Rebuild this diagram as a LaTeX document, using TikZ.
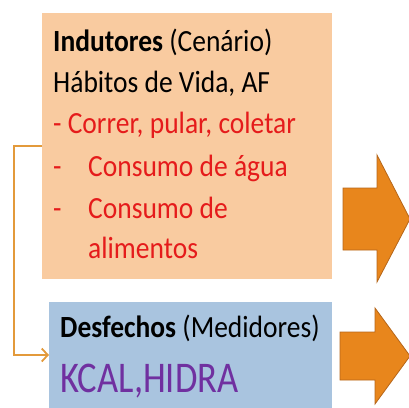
\documentclass[tikz,border=0pt]{standalone}
\usepackage{fontspec}
\setmainfont{Carlito}
\usetikzlibrary{arrows.meta}
\definecolor{boxorange}{HTML}{F9CBA0}
\definecolor{boxblue}{HTML}{A9C4DF}
\definecolor{linkorange}{HTML}{E39A3B}
\definecolor{arrowfill}{HTML}{E8861C}
\definecolor{arrowdraw}{HTML}{B5661A}
\definecolor{txtred}{HTML}{E51B1B}
\definecolor{txtpurple}{HTML}{7030A0}
\newcommand{\tall}[1]{\scalebox{1}[1.12]{#1}}
\newcommand{\taller}[1]{\scalebox{1}[1.2]{#1}}
\tikzset{
  panel/.style={draw=none, inner sep=0, outer sep=0, anchor=north west},
  txt/.style={anchor=base west, inner sep=0, font=\fontsize{27.5}{32}\selectfont},
  bigtxt/.style={anchor=base west, inner sep=0, font=\fontsize{36.5}{44}\selectfont, text=txtpurple},
  link/.style={draw=linkorange, line width=1.8pt, -{Straight Barb[length=6pt,width=13pt,line width=1.8pt]}},
  blockarrow/.style={fill=arrowfill, draw=arrowdraw, line width=0.8pt, line join=miter}
}
\begin{document}
\begin{tikzpicture}[x=1pt,y=-1pt]
\useasboundingbox (0,0) rectangle (409,407);
\node[panel, fill=boxorange, minimum width=290pt, minimum height=266pt] (ind) at (42,13) {};
\node[panel, fill=boxblue, minimum width=283pt, minimum height=106pt] (des) at (49,302) {};
% text
\node[txt] (t1) at (53,51) {\tall{\textbf{Indutores} (Cenário)}};
\node[txt] (t2) at (53,92) {\tall{Hábitos de Vida, AF}};
\node[txt, text=txtred] (t3) at (53,133) {\tall{- Correr, pular, coletar}};
\node[txt, text=txtred] (t4a) at (53,176) {\tall{-}};
\node[txt, text=txtred] (t4) at (88,176) {\tall{Consumo de água}};
\node[txt, text=txtred] (t5a) at (53,218) {\tall{-}};
\node[txt, text=txtred] (t5) at (88,218) {\tall{Consumo de}};
\node[txt, text=txtred] (t6) at (88,258) {\tall{alimentos}};
\node[txt] (d1) at (60,337) {\tall{\textbf{Desfechos} (Medidores)}};
\node[bigtxt] (d2) at (60,392) {\taller{KCAL,HIDRA}};
% connector
\draw[link] (ind.west) -- ++(-28,0) |- (des.west);
% block arrows
\draw[blockarrow] (343,188) -- (377,188) -- (377,155) -- (410,219) -- (377,282) -- (377,250) -- (343,250) -- cycle;
\draw[blockarrow] (340,332) -- (375,332) -- (375,308) -- (410,356) -- (375,404) -- (375,380) -- (340,380) -- cycle;
\end{tikzpicture}
\end{document}
